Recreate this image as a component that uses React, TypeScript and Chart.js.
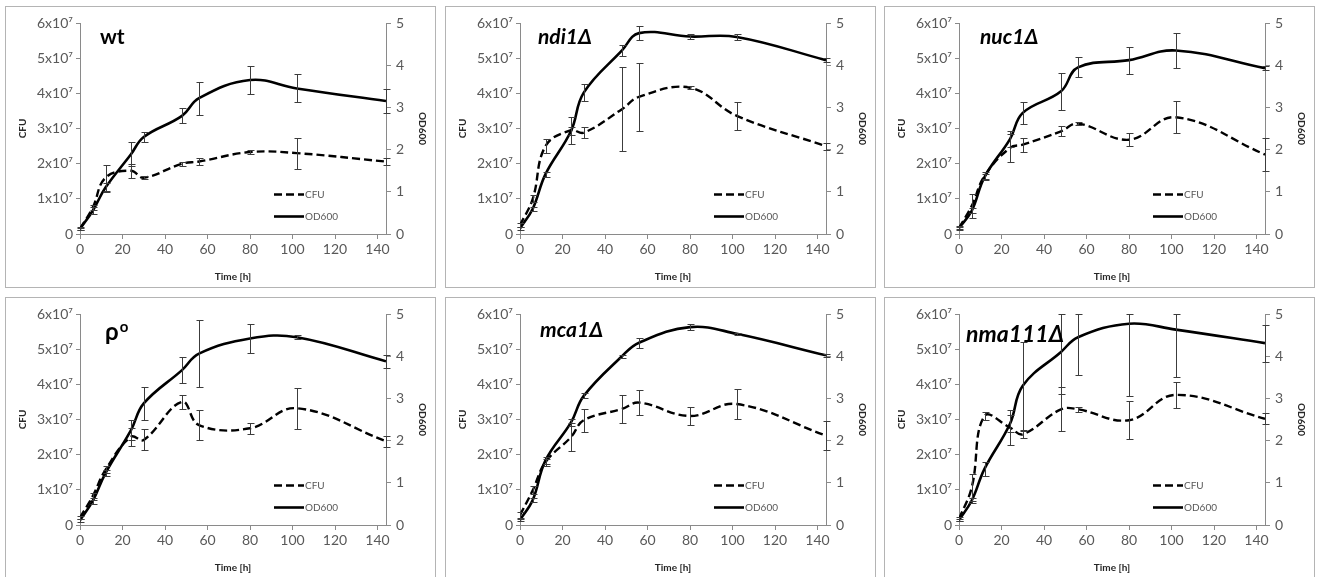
import React, { useEffect, useRef } from "react";
import { Chart, registerables } from "chart.js";

Chart.register(...registerables);

// Sampling times (h)
const TIMES = [0, 6, 12, 24, 30, 48, 56, 80, 102, 144];

// CFU values in units of 10^7, OD600 in absorbance units; *Err = error bar half-length
const wtCfu = [0.15, 0.75, 1.6, 1.8, 1.6, 2.0, 2.06, 2.33, 2.3, 2.06];
const wtCfuErr = [0.05, 0.08, 0.37, 0.2, 0.05, 0.06, 0.09, 0.05, 0.44, 0.09];
const wtOd = [0.12, 0.55, 1.1, 1.89, 2.3, 2.8, 3.22, 3.65, 3.45, 3.15];
const wtOdErr = [0.03, 0.08, 0.1, 0.28, 0.11, 0.18, 0.39, 0.34, 0.33, 0.28];

const ndi1Cfu = [0.25, 1.0, 2.5, 2.95, 2.88, 3.55, 3.9, 4.16, 3.36, 2.5];
const ndi1CfuErr = [0.05, 0.1, 0.21, 0.38, 0.15, 1.19, 0.97, 0.04, 0.4, 0.1];
const ndi1Od = [0.13, 0.6, 1.42, 2.44, 3.35, 4.35, 4.76, 4.68, 4.67, 4.12];
const ndi1OdErr = [0.03, 0.05, 0.06, 0.1, 0.2, 0.14, 0.16, 0.07, 0.07, 0.04];

const nuc1Cfu = [0.17, 0.8, 1.65, 2.45, 2.54, 2.92, 3.14, 2.68, 3.32, 2.26];
const nuc1CfuErr = [0.05, 0.35, 0.1, 0.4, 0.2, 0.14, 0.05, 0.19, 0.45, 0.47];
const nuc1Od = [0.14, 0.55, 1.35, 2.25, 2.87, 3.38, 3.95, 4.12, 4.35, 3.93];
const nuc1OdErr = [0.03, 0.06, 0.08, 0.2, 0.26, 0.43, 0.24, 0.32, 0.42, 0.04];

const rho0Cfu = [0.21, 0.82, 1.57, 2.51, 2.42, 3.5, 2.84, 2.75, 3.32, 2.38];
const rho0CfuErr = [0.05, 0.1, 0.1, 0.26, 0.3, 0.21, 0.42, 0.16, 0.58, 0.16];
const rho0Od = [0.11, 0.57, 1.23, 2.25, 2.88, 3.67, 4.06, 4.42, 4.45, 3.88];
const rho0OdErr = [0.03, 0.08, 0.08, 0.24, 0.39, 0.31, 0.79, 0.35, 0.05, 0.16];

const mca1Cfu = [0.28, 0.99, 1.79, 2.5, 2.98, 3.3, 3.48, 3.1, 3.44, 2.54];
const mca1CfuErr = [0.08, 0.12, 0.1, 0.4, 0.33, 0.4, 0.35, 0.25, 0.43, 0.42];
const mca1Od = [0.12, 0.59, 1.53, 2.43, 3.06, 4.0, 4.32, 4.69, 4.53, 4.02];
const mca1OdErr = [0.03, 0.05, 0.08, 0.08, 0.06, 0.04, 0.12, 0.07, 0.03, 0.03];

const nma111Cfu = [0.17, 1.07, 3.1, 2.77, 2.58, 3.29, 3.29, 2.98, 3.7, 3.02];
const nma111CfuErr = [0.05, 0.38, 0.1, 0.5, 0.1, 0.62, 0.07, 0.54, 0.36, 0.16];
const nma111Od = [0.12, 0.58, 1.33, 2.4, 3.3, 4.1, 4.45, 4.77, 4.63, 4.31];
const nma111OdErr = [0.03, 0.05, 0.16, 0.2, 1.04, 1.0, 0.9, 1.72, 1.12, 0.44];

// Text
const PANEL_TITLES = ["wt", "ndi1Δ", "nuc1Δ", "ρ", "mca1Δ", "nma111Δ"];
const PANEL_TITLE_SUP = ["", "", "", "o", "", ""];
const PANEL_TITLE_ITALIC = [false, true, true, false, true, true];
const SERIES_LABELS = ["CFU", "OD600"];
const X_TITLE = "Time [h]";
const LEFT_TITLE = "CFU";
const RIGHT_TITLE = "OD600";

// Axis ranges
const X_MAX = 144;
const X_STEP = 20;
const CFU_MAX = 6;
const OD_MAX = 5;

const PANEL_DATA = [
  [wtCfu, wtCfuErr, wtOd, wtOdErr],
  [ndi1Cfu, ndi1CfuErr, ndi1Od, ndi1OdErr],
  [nuc1Cfu, nuc1CfuErr, nuc1Od, nuc1OdErr],
  [rho0Cfu, rho0CfuErr, rho0Od, rho0OdErr],
  [mca1Cfu, mca1CfuErr, mca1Od, mca1OdErr],
  [nma111Cfu, nma111CfuErr, nma111Od, nma111OdErr],
];

// Layout (styling only)
const PANEL_LEFTS = [5, 445, 884];
const PANEL_TOPS = [6, 297];
const CANVAS_W = 429;
const CANVAS_H = 280;
const TITLE_POS = [
  { x: 94, y: 37, size: 21 },
  { x: 92, y: 37, size: 21 },
  { x: 95, y: 37, size: 21 },
  { x: 99, y: 42, size: 24 },
  { x: 94, y: 39, size: 21 },
  { x: 81, y: 44, size: 23 },
];

const FONT = "Lato, 'Open Sans', 'Liberation Sans', sans-serif";
const AXIS_COLOR = "#8a8a8a";
const TICK_COLOR = "#595959";

const errorBarPlugin = {
  id: "errorBars",
  afterDatasetsDraw(chart: any) {
    const { ctx, chartArea } = chart;
    ctx.save();
    ctx.strokeStyle = "#3c3c3c";
    ctx.lineWidth = 1;
    chart.data.datasets.forEach((ds: any) => {
      const errs = ds.errors;
      if (!errs) return;
      const ys = chart.scales[ds.yAxisID];
      const xs = chart.scales.x;
      ds.data.forEach((pt: any, j: number) => {
        const e = errs[j];
        if (!e) return;
        const x = Math.round(xs.getPixelForValue(pt.x)) + 0.5;
        const yTop = Math.max(chartArea.top, ys.getPixelForValue(pt.y + e));
        const yBot = Math.min(chartArea.bottom, ys.getPixelForValue(pt.y - e));
        const a = Math.round(yTop) + 0.5;
        const b = Math.round(yBot) + 0.5;
        ctx.beginPath();
        ctx.moveTo(x, a);
        ctx.lineTo(x, b);
        ctx.moveTo(x - 3, a);
        ctx.lineTo(x + 4, a);
        ctx.moveTo(x - 3, b);
        ctx.lineTo(x + 4, b);
        ctx.stroke();
      });
    });
    ctx.restore();
  },
};

const overlayPlugin = {
  id: "overlay",
  afterDraw(chart: any) {
    const { ctx, chartArea } = chart;
    const idx = chart.options.plugins.overlay.index;
    const pos = TITLE_POS[idx];
    ctx.save();
    // panel title
    ctx.fillStyle = "#000";
    ctx.textBaseline = "alphabetic";
    ctx.textAlign = "left";
    const italic = PANEL_TITLE_ITALIC[idx] ? "italic " : "";
    ctx.font = `${italic}bold ${pos.size}px ${FONT}`;
    const t = PANEL_TITLES[idx];
    ctx.fillText(t, pos.x, pos.y);
    const sup = PANEL_TITLE_SUP[idx];
    if (sup) {
      const w = ctx.measureText(t).width;
      ctx.font = `bold ${Math.round(pos.size * 0.62)}px ${FONT}`;
      ctx.fillText(sup, pos.x + w + 1, pos.y - 8);
    }
    // legend
    const lx = chartArea.left + 194;
    const rows = [chartArea.bottom - 40, chartArea.bottom - 18];
    chart.data.datasets.forEach((ds: any, i: number) => {
      const y = Math.round(rows[i]) + 0.5;
      ctx.strokeStyle = ds.borderColor;
      ctx.lineWidth = ds.borderWidth;
      ctx.setLineDash(ds.borderDash || []);
      ctx.beginPath();
      ctx.moveTo(lx, y);
      ctx.lineTo(lx + 30, y);
      ctx.stroke();
      ctx.setLineDash([]);
      ctx.fillStyle = TICK_COLOR;
      ctx.font = `10px ${FONT}`;
      ctx.textBaseline = "middle";
      ctx.fillText(ds.label, lx + 31, y);
    });
    ctx.restore();
  },
};

function Panel({ index }: { index: number }) {
  const ref = useRef<HTMLCanvasElement>(null);
  useEffect(() => {
    const [cfu, cfuErr, od, odErr] = PANEL_DATA[index];
    const chart = new Chart(ref.current as HTMLCanvasElement, {
      type: "line",
      data: {
        datasets: [
          {
            label: SERIES_LABELS[0],
            data: TIMES.map((t, i) => ({ x: t, y: cfu[i] })),
            yAxisID: "y",
            borderColor: "#000000",
            backgroundColor: "#000000",
            borderWidth: 2.4,
            borderDash: [8, 4],
            pointRadius: 0,
            tension: 0.4,
            fill: false,
            errors: cfuErr,
          } as any,
          {
            label: SERIES_LABELS[1],
            data: TIMES.map((t, i) => ({ x: t, y: od[i] })),
            yAxisID: "y1",
            borderColor: "#000000",
            backgroundColor: "#000000",
            borderWidth: 2.6,
            pointRadius: 0,
            tension: 0.4,
            fill: false,
            errors: odErr,
          } as any,
        ],
      },
      options: {
        responsive: false,
        animation: false,
        devicePixelRatio: 1,
        layout: { padding: { top: 16, left: 0, right: 0, bottom: 0 } },
        plugins: {
          legend: { display: false },
          tooltip: { enabled: false },
          overlay: { index },
        } as any,
        scales: {
          x: {
            type: "linear",
            min: 0,
            max: X_MAX,
            ticks: {
              stepSize: X_STEP,
              includeBounds: false,
              color: TICK_COLOR,
              font: { family: FONT, size: 14 },
              padding: 2,
              maxRotation: 0,
            },
            grid: { drawOnChartArea: false, drawTicks: true, tickLength: 5, color: AXIS_COLOR },
            border: { color: AXIS_COLOR },
            title: {
              display: true,
              text: X_TITLE,
              color: "#262626",
              font: { family: FONT, size: 10, weight: "bold" },
              padding: { top: 0, bottom: 4 },
            },
            afterFit: (s: any) => {
              s.height = 53;
            },
          },
          y: {
            type: "linear",
            position: "left",
            min: 0,
            max: CFU_MAX,
            ticks: {
              stepSize: 1,
              color: TICK_COLOR,
              font: { family: FONT, size: 14 },
              padding: 3,
              callback: (v: any) => (v === 0 ? "0" : `${v}x10\u2077`),
            },
            grid: { drawOnChartArea: false, drawTicks: true, tickLength: 4, color: AXIS_COLOR },
            border: { color: AXIS_COLOR },
            title: {
              display: true,
              text: LEFT_TITLE,
              color: "#262626",
              font: { family: FONT, size: 10, weight: "bold" },
              padding: { top: 11, bottom: 0 },
            },
            afterFit: (s: any) => {
              s.width = 74;
            },
          },
          y1: {
            type: "linear",
            position: "right",
            min: 0,
            max: OD_MAX,
            ticks: {
              stepSize: 1,
              color: TICK_COLOR,
              font: { family: FONT, size: 14 },
              padding: 5,
            },
            grid: { drawOnChartArea: false, drawTicks: true, tickLength: 5, color: AXIS_COLOR },
            border: { color: AXIS_COLOR },
            title: {
              display: true,
              text: RIGHT_TITLE,
              color: "#262626",
              font: { family: FONT, size: 10, weight: "bold" },
              padding: { top: 7, bottom: 0 },
            },
            afterFit: (s: any) => {
              s.width = 49;
            },
          },
        },
      } as any,
      plugins: [errorBarPlugin, overlayPlugin],
    });
    return () => chart.destroy();
  }, [index]);

  const col = index % 3;
  const row = Math.floor(index / 3);
  return (
    <div
      style={{
        position: "absolute",
        left: PANEL_LEFTS[col],
        top: PANEL_TOPS[row],
        width: CANVAS_W,
        height: CANVAS_H,
        border: "1px solid #b4b4b4",
        background: "#ffffff",
      }}
    >
      <canvas
        ref={ref}
        width={CANVAS_W}
        height={CANVAS_H}
        style={{ display: "block", width: CANVAS_W, height: CANVAS_H }}
      />
    </div>
  );
}

export default function App() {
  return (
    <div
      style={{
        position: "absolute",
        left: 0,
        top: 0,
        width: 1317,
        height: 577,
        overflow: "hidden",
        background: "#ffffff",
      }}
    >
      {PANEL_TITLES.map((_, i) => (
        <Panel key={i} index={i} />
      ))}
    </div>
  );
}
